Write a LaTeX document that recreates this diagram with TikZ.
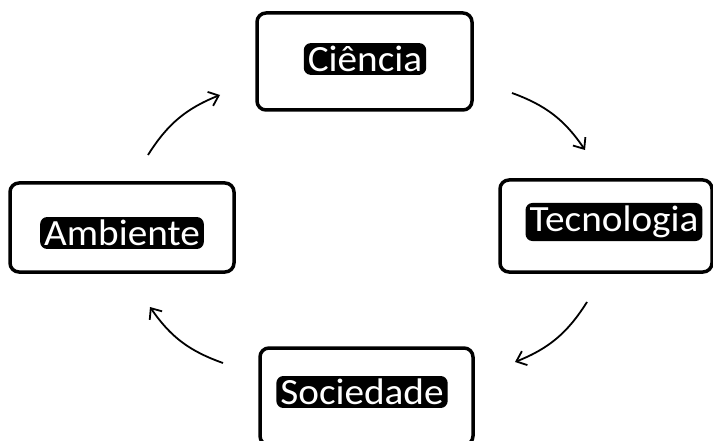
\documentclass[tikz,border=0pt]{standalone}
\usepackage{fontspec}
\setmainfont{Carlito}
\usetikzlibrary{arrows.meta}
\tikzset{
  box/.style={draw=black, line width=3.5pt, rounded corners=9pt, fill=white, inner sep=0pt},
  lbl/.style={fill=black, text=white, rounded corners=7pt, inner xsep=4pt, inner ysep=3pt, font=\fontsize{37}{40}\selectfont},
  flow/.style={line width=1.8pt, -{Straight Barb[length=9pt,width=15pt,line width=1.8pt]}, bend left=18}
}
\begin{document}
\begin{tikzpicture}[x=1pt,y=1pt]
\useasboundingbox (0,0) rectangle (713,440);
\clip (0,0) rectangle (713,440);
\fill[white] (0,0) rectangle (713,440);
\node[box, minimum width=215pt, minimum height=97pt] (bc) at (364.5,378.5) {};
\node[box, minimum width=212pt, minimum height=92pt] (bt) at (606,214) {};
\node[box, minimum width=224pt, minimum height=89pt] (ba) at (122,212.5) {};
\node[box, minimum width=213pt, minimum height=97pt] (bs) at (366.5,43.5) {};
\node[lbl] (tc) at (365,381) {\scalebox{1.06}[1]{Ciência}};
\node[lbl] (tt) at (614,218) {\scalebox{1.06}[1]{Tecnologia}};
\node[lbl] (ta) at (122,207) {\scalebox{1.06}[1]{Ambiente}};
\node[lbl] (ts) at (362,48) {\scalebox{1.06}[1]{Sociedade}};
\coordinate (a1s) at (148,285);
\coordinate (a1e) at (220,345);
\coordinate (a2s) at (512,347);
\coordinate (a2e) at (585,290);
\coordinate (a3s) at (587,138);
\coordinate (a3e) at (515,78);
\coordinate (a4s) at (223,77);
\coordinate (a4e) at (150,133);
\draw[flow] (a1s) to (a1e);
\draw[flow] (a2s) to (a2e);
\draw[flow] (a3s) to (a3e);
\draw[flow] (a4s) to (a4e);
\end{tikzpicture}
\end{document}
